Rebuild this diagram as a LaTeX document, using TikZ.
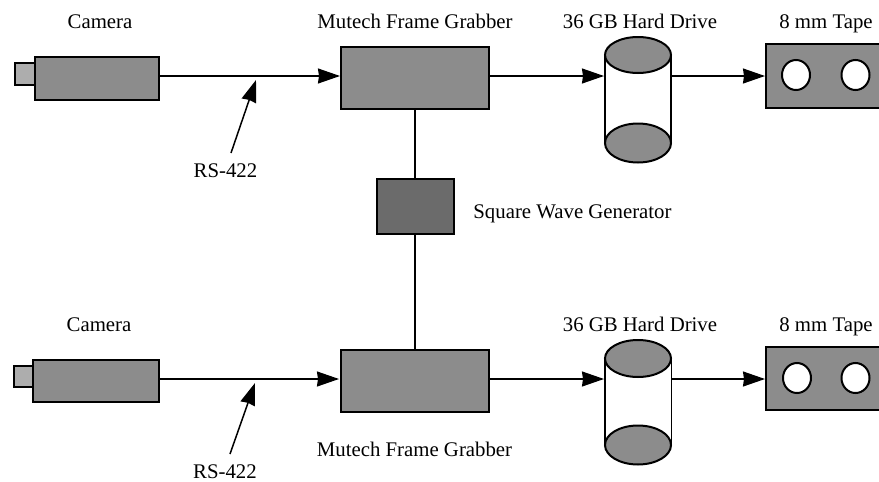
\documentclass[tikz,border=0pt]{standalone}
\usepackage{fontspec}
\setmainfont{Liberation Serif}
\usetikzlibrary{arrows.meta}
\definecolor{boxg}{gray}{0.55}
\definecolor{boxd}{gray}{0.42}
\definecolor{lensg}{gray}{0.68}
\tikzset{x=1pt,y=-1pt,
 lbl/.style={font=\fontsize{20.8}{23}\selectfont,inner sep=0pt,text=black,text height=12pt,text depth=3pt},
 block/.style={draw=black,line width=2pt,fill=boxg},
 darkblock/.style={draw=black,line width=2pt,fill=boxd},
 lensbox/.style={draw=black,line width=2pt,fill=lensg},
 conn/.style={line width=1.5pt,-{Stealth[length=22pt,width=15pt,inset=1pt]}},
 plainconn/.style={line width=1.5pt},
 diskcap/.style={draw=black,line width=2pt,fill=boxg},
 diskside/.style={line width=1.5pt},
 hole/.style={draw=black,line width=2pt,fill=white}}
\begin{document}
\begin{tikzpicture}
\useasboundingbox (0,0) rectangle (879,482);
% top row
\node[lbl] (cam1l) at (100,24) {Camera};
\node[lbl] (fg1l) at (415,24) {Mutech Frame Grabber};
\node[lbl] (hd1l) at (640,24) {36 GB Hard Drive};
\node[lbl] (tp1l) at (826,24) {8 mm Tape};
\node[lbl] (rs1l) at (225.5,173) {RS-422};
\node[lbl] (swl) at (572.5,214) {Square Wave Generator};
\fill[white] (605,55) rectangle (671,143);
\draw[diskside] (605,55) -- (605,143) (671,55) -- (671,143);
\draw[diskcap] (638,55) ellipse [x radius=33,y radius=18];
\draw[diskcap] (638,143) ellipse [x radius=33,y radius=19.5];
\coordinate (hd1w) at (604,76);
\coordinate (hd1e) at (671,76);
\draw[lensbox] (15,63) rectangle (35,85);
\draw[block] (35,57) rectangle (159,99.5);
\coordinate (cam1e) at (159,76);
\draw[block] (341,47) rectangle (489,108.5);
\coordinate (fg1w) at (340,76);
\coordinate (fg1e) at (489,76);
\coordinate (fg1s) at (415,108.5);
\draw[darkblock] (377,179) rectangle (454,234);
\coordinate (swn) at (415,179);
\coordinate (sws) at (415,234);
\draw[block] (766,44) rectangle (885,107.5);
\coordinate (tp1w) at (765,76);
\draw[hole] (796,75) ellipse [x radius=14,y radius=15];
\draw[hole] (855.5,75) ellipse [x radius=14,y radius=15];
\draw[conn] (cam1e) -- (fg1w);
\draw[conn] (fg1e) -- (hd1w);
\draw[conn] (hd1e) -- (tp1w);
\draw[plainconn] (fg1s) -- (swn);
\coordinate (rs1a) at (231,153);
\coordinate (rs1b) at (256,80);
\draw[conn] (rs1a) -- (rs1b);
% bottom row
\node[lbl] (cam2l) at (99,327) {Camera};
\node[lbl] (fg2l) at (414.5,452) {Mutech Frame Grabber};
\node[lbl] (hd2l) at (640,327) {36 GB Hard Drive};
\node[lbl] (tp2l) at (826,327) {8 mm Tape};
\node[lbl] (rs2l) at (225,474) {RS-422};
\fill[white] (605,358) rectangle (671.5,445);
\draw[diskside] (605,358) -- (605,445) (671.5,358) -- (671.5,445);
\draw[diskcap] (638,358.5) ellipse [x radius=33,y radius=18.5];
\draw[diskcap] (638,445) ellipse [x radius=33,y radius=19.5];
\coordinate (hd2w) at (604,379);
\coordinate (hd2e) at (671.5,379);
\draw[lensbox] (14,366) rectangle (33,387);
\draw[block] (33,360) rectangle (158.5,402);
\coordinate (cam2e) at (158.5,379);
\draw[block] (341,350) rectangle (489,412);
\coordinate (fg2w) at (339,379);
\coordinate (fg2e) at (489,379);
\coordinate (fg2n) at (415,350);
\draw[block] (766,347) rectangle (885,410);
\coordinate (tp2w) at (765,379);
\draw[hole] (797,378) ellipse [x radius=14,y radius=15];
\draw[hole] (855.5,378) ellipse [x radius=14,y radius=15];
\draw[conn] (cam2e) -- (fg2w);
\draw[conn] (fg2e) -- (hd2w);
\draw[conn] (hd2e) -- (tp2w);
\draw[plainconn] (sws) -- (fg2n);
\coordinate (rs2a) at (230,454);
\coordinate (rs2b) at (255,383);
\draw[conn] (rs2a) -- (rs2b);
\end{tikzpicture}
\end{document}
